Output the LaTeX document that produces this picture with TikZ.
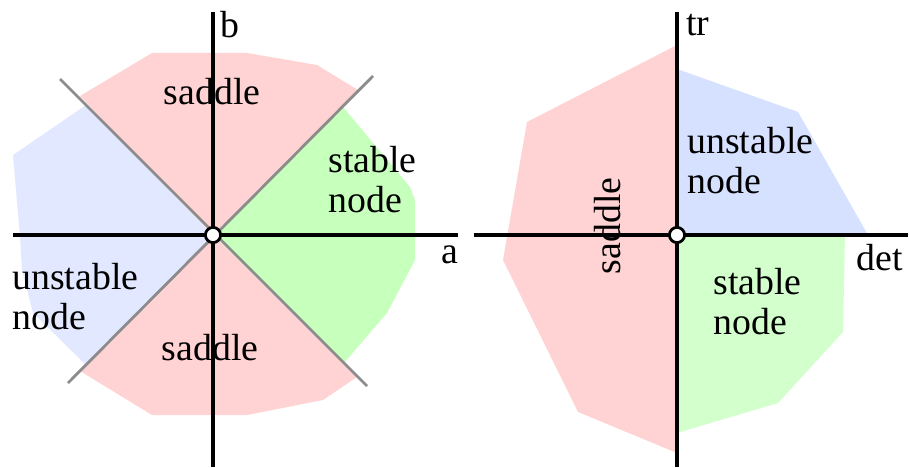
\documentclass[tikz,border=0pt]{standalone}
\usepackage{fontspec}
\setmainfont{Liberation Serif}
\usepackage{xcolor}
\definecolor{sad}{RGB}{255,211,211}
\definecolor{unsL}{RGB}{226,232,255}
\definecolor{unsR}{RGB}{214,224,255}
\definecolor{stbL}{RGB}{199,255,189}
\definecolor{stbR}{RGB}{210,255,204}
\definecolor{sepgray}{RGB}{140,140,140}
\usetikzlibrary{positioning}

\begin{document}
\begin{tikzpicture}[x=0.5pt,y=0.5pt,
  axis/.style={line width=1.6pt},
  sep/.style={line width=1.4pt, sepgray},
  lbl/.style={font=\fontsize{18.9}{20}\selectfont, inner sep=0pt, align=left},
  dot/.style={circle, draw, fill=white, line width=1.4pt, minimum size=7.6pt, inner sep=0pt}]
  \useasboundingbox (0,0) rectangle (909,467);

  % Left: (a,b) plane
  \begin{scope}[shift={(213,232)}]
    % Regions
    \fill[sad] (0,0) -- (-133,139) -- (-61,182) -- (34,182) -- (104,170) -- (145,145) -- cycle;
    \fill[stbL] (0,0) -- (130,128) -- (197,48) -- (202,35) -- (202,-25) -- (174,-78) -- (131,-128) -- cycle;
    \fill[sad] (0,0) -- (144,-142) -- (110,-165) -- (34,-180) -- (-61,-180) -- (-133,-136) -- cycle;
    \fill[unsL] (0,0) -- (-127,-130) -- (-180,-78) -- (-191,-35) -- (-193,-2) -- (-200,80) -- (-127,130) -- cycle;

    % Separatrices
    \coordinate (ul) at (-153,156);
    \coordinate (lr) at (154,-151);
    \coordinate (ur) at (160,159);
    \coordinate (ll) at (-145,-148);
    \draw[sep] (ul) -- (lr);
    \draw[sep] (ur) -- (ll);

    % Labels
    \node[lbl] (sadT) at (-1,143) {saddle};
    \node[lbl] (sadB) at (-3,-113) {saddle};
    \node[lbl, anchor=west] (stbA) at (115,55) {stable\\node};
    \node[lbl, anchor=west] (unsA) at (-201,-62) {unstable\\node};

    % Axes
    \coordinate (aW) at (-200,0);
    \coordinate (aE) at (245,0);
    \coordinate (bS) at (0,-232);
    \coordinate (bN) at (0,223);
    \draw[axis] (aW) -- (aE);
    \draw[axis] (bS) -- (bN);
    \node[lbl] (aLab) at (237,-20) {a};
    \node[lbl] (bLab) at (17,210) {b};

    % Fixed point
    \node[dot] (oL) at (0,0) {};
  \end{scope}

  % Right: (det,tr) plane
  \begin{scope}[shift={(677,232)}]
    % Regions
    \fill[sad] (0,190) -- (-150,113) -- (-174,-25) -- (-99,-177) -- (0,-218) -- cycle;
    \fill[unsR] (0,0) -- (0,166) -- (121,123) -- (191,0) -- cycle;
    \fill[stbR] (0,0) -- (168,0) -- (166,-97) -- (101,-168) -- (0,-198) -- cycle;

    % Labels
    \node[lbl, rotate=90] (sadR) at (-69,9) {saddle};
    \node[lbl, anchor=west] (unsD) at (10,74) {unstable\\node};
    \node[lbl, anchor=west] (stbD) at (36,-67) {stable\\node};

    % Axes
    \coordinate (dW) at (-203,0);
    \coordinate (dE) at (231,0);
    \coordinate (tS) at (0,-232);
    \coordinate (tN) at (0,223);
    \draw[axis] (dW) -- (dE);
    \draw[axis] (tS) -- (tN);
    \node[lbl] (dLab) at (203,-23) {det};
    \node[lbl] (tLab) at (21,210) {tr};

    % Fixed point
    \node[dot] (oR) at (0,0) {};
  \end{scope}
\end{tikzpicture}
\end{document}
